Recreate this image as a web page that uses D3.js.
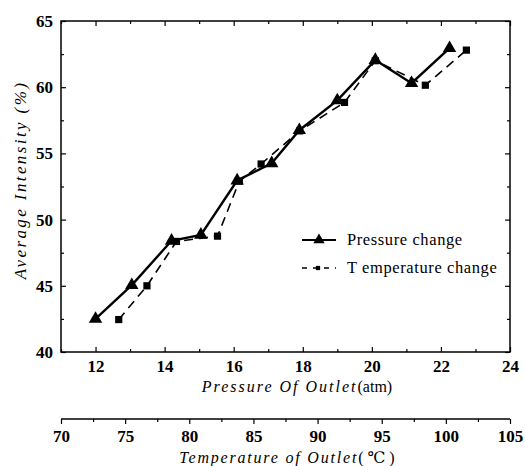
<!DOCTYPE html>
<html>
<head>
<meta charset="utf-8">
<script src="https://cdn.jsdelivr.net/npm/d3@7"></script>
<style>
  body { margin: 0; background: #fff; }
  svg text { font-family: "Times New Roman", "Liberation Serif", "DejaVu Serif", serif; fill: #000; }
</style>
</head>
<body>
<svg id="chart" width="525" height="466"></svg>
<script>
// data
const pressure = [12, 13.05, 14.2, 15.05, 16.1, 17.1, 17.9, 19.0, 20.1, 21.15, 22.25];
const pressureY = [42.5, 45.05, 48.4, 48.85, 52.95, 54.25, 56.75, 59.0, 62.05, 60.3, 62.95];
const temperature = [74.5, 76.7, 79.0, 82.2, 83.9, 85.6, 88.6, 92.1, 94.5, 98.4, 101.6];
const temperatureY = [42.45, 45.0, 48.35, 48.75, 52.9, 54.2, 56.7, 58.85, 62.0, 60.15, 62.8];

const xTicks = [12, 14, 16, 18, 20, 22, 24];
const yTicks = [40, 45, 50, 55, 60, 65];
const tTicks = [70, 75, 80, 85, 90, 95, 100, 105];
const legendLabels = ["Pressure change", "T emperature change"];

const serif = "'Times New Roman', 'Liberation Serif', 'DejaVu Serif', serif";
const svg = d3.select("#chart");
const pLeft = 61, pRight = 510, pTop = 21, pBottom = 352;
const tAxisY = 419;

const x = d3.scaleLinear().domain([11, 24]).range([pLeft, pRight]);
const y = d3.scaleLinear().domain([40, 65]).range([pBottom, pTop]);
const xt = d3.scaleLinear().domain([70, 105]).range([pLeft, pRight]);

const xMinor = d3.range(11, 24.01, 1).filter(v => v % 2 !== 0);
const yMinor = d3.range(42.5, 65, 5);
const tMinor = d3.range(72.5, 105, 5);

// frame
svg.append("rect")
    .attr("x", pLeft).attr("y", pTop)
    .attr("width", pRight - pLeft).attr("height", pBottom - pTop)
    .attr("fill", "none").attr("stroke", "#000").attr("stroke-width", 1.5);

function styleAxis(sel) {
    sel.attr("font-family", null);
    sel.select(".domain").remove();
    sel.selectAll("line").attr("stroke", "#000").attr("stroke-width", 1.2);
    sel.selectAll("text")
        .style("font-size", "17px")
        .style("font-weight", "bold")
        .style("font-family", serif);
}

// bottom
svg.append("g").attr("transform", `translate(0,${pBottom})`)
    .call(d3.axisBottom(x).tickValues(xTicks).tickSizeInner(-5).tickSizeOuter(0).tickPadding(8))
    .call(styleAxis);
svg.append("g").attr("transform", `translate(0,${pBottom})`)
    .call(d3.axisBottom(x).tickValues(xMinor).tickSizeInner(-3).tickSizeOuter(0).tickFormat(""))
    .call(styleAxis);
// top
svg.append("g").attr("transform", `translate(0,${pTop})`)
    .call(d3.axisTop(x).tickValues(xTicks).tickSizeInner(-5).tickSizeOuter(0).tickFormat(""))
    .call(styleAxis);
svg.append("g").attr("transform", `translate(0,${pTop})`)
    .call(d3.axisTop(x).tickValues(xMinor).tickSizeInner(-3).tickSizeOuter(0).tickFormat(""))
    .call(styleAxis);
// left
svg.append("g").attr("transform", `translate(${pLeft},0)`)
    .call(d3.axisLeft(y).tickValues(yTicks).tickSizeInner(-5).tickSizeOuter(0).tickPadding(8))
    .call(styleAxis);
svg.append("g").attr("transform", `translate(${pLeft},0)`)
    .call(d3.axisLeft(y).tickValues(yMinor).tickSizeInner(-3).tickSizeOuter(0).tickFormat(""))
    .call(styleAxis);
// right
svg.append("g").attr("transform", `translate(${pRight},0)`)
    .call(d3.axisRight(y).tickValues(yTicks).tickSizeInner(-5).tickSizeOuter(0).tickFormat(""))
    .call(styleAxis);
svg.append("g").attr("transform", `translate(${pRight},0)`)
    .call(d3.axisRight(y).tickValues(yMinor).tickSizeInner(-3).tickSizeOuter(0).tickFormat(""))
    .call(styleAxis);

// temperature axis below
const tg = svg.append("g").attr("transform", `translate(0,${tAxisY})`)
    .call(d3.axisBottom(xt).tickValues(tTicks).tickSizeInner(5).tickSizeOuter(0).tickPadding(6))
    .call(styleAxis);
tg.append("line").attr("x1", pLeft).attr("x2", pRight).attr("stroke", "#000").attr("stroke-width", 1.5);
svg.append("g").attr("transform", `translate(0,${tAxisY})`)
    .call(d3.axisBottom(xt).tickValues(tMinor).tickSizeInner(3).tickSizeOuter(0).tickFormat(""))
    .call(styleAxis);

// axis titles
const xTitle = svg.append("text")
    .attr("x", 297).attr("y", 392)
    .attr("text-anchor", "middle").style("font-size", "16px").style("font-family", serif);
xTitle.append("tspan").style("font-style", "italic").style("letter-spacing", "2px").text("Pressure Of Outlet");
xTitle.append("tspan").text("(atm)");

const tTitle = svg.append("text")
    .attr("x", 287).attr("y", 463)
    .attr("text-anchor", "middle").style("font-size", "16px").style("font-family", serif);
tTitle.append("tspan").style("font-style", "italic").style("letter-spacing", "1.8px").text("Temperature of Outlet");
tTitle.append("tspan").text("( \u2103 )");

svg.append("text")
    .attr("transform", `translate(26,180) rotate(-90)`)
    .attr("text-anchor", "middle")
    .style("font-family", serif)
    .style("font-size", "17px").style("font-style", "italic").style("letter-spacing", "2.4px")
    .text("Average Intensity (%)");

// series
const pData = pressure.map((v, i) => [x(v), y(pressureY[i])]);
const tData = temperature.map((v, i) => [xt(v), y(temperatureY[i])]);

svg.append("path").datum(tData)
    .attr("fill", "none").attr("stroke", "#000").attr("stroke-width", 1.6)
    .attr("stroke-dasharray", "9,6")
    .attr("d", d3.line());

svg.append("path").datum(pData)
    .attr("fill", "none").attr("stroke", "#000").attr("stroke-width", 2.4)
    .attr("d", d3.line());

const tri = d3.symbol().type(d3.symbolTriangle).size(78);
const sq = d3.symbol().type(d3.symbolSquare).size(52);

svg.append("g").selectAll("path")
    .data(tData).join("path")
    .attr("transform", d => `translate(${d[0]},${d[1]})`)
    .attr("d", sq).attr("fill", "#000");

svg.append("g").selectAll("path")
    .data(pData).join("path")
    .attr("transform", d => `translate(${d[0]},${d[1]})`)
    .attr("d", tri).attr("fill", "#000");

// legend
const lg = svg.append("g");
const lx = 302, ly = [240, 268];
lg.append("line").attr("x1", lx).attr("x2", lx + 34).attr("y1", ly[0]).attr("y2", ly[0])
    .attr("stroke", "#000").attr("stroke-width", 2);
lg.append("path").attr("transform", `translate(${lx + 17},${ly[0]})`).attr("d", d3.symbol().type(d3.symbolTriangle).size(55)).attr("fill", "#000");
lg.append("line").attr("x1", lx).attr("x2", lx + 34).attr("y1", ly[1]).attr("y2", ly[1])
    .attr("stroke", "#000").attr("stroke-width", 1.5).attr("stroke-dasharray", "5,6");
lg.append("path").attr("transform", `translate(${lx + 16},${ly[1]})`).attr("d", d3.symbol().type(d3.symbolSquare).size(18)).attr("fill", "#000");
lg.selectAll("text.lab").data(legendLabels).join("text")
    .attr("class", "lab")
    .attr("x", 347).attr("y", (d, i) => ly[i] + 5)
    .style("font-family", serif)
    .style("font-size", "16.5px")
    .style("letter-spacing", "0.6px")
    .text(d => d);
</script>
</body>
</html>
